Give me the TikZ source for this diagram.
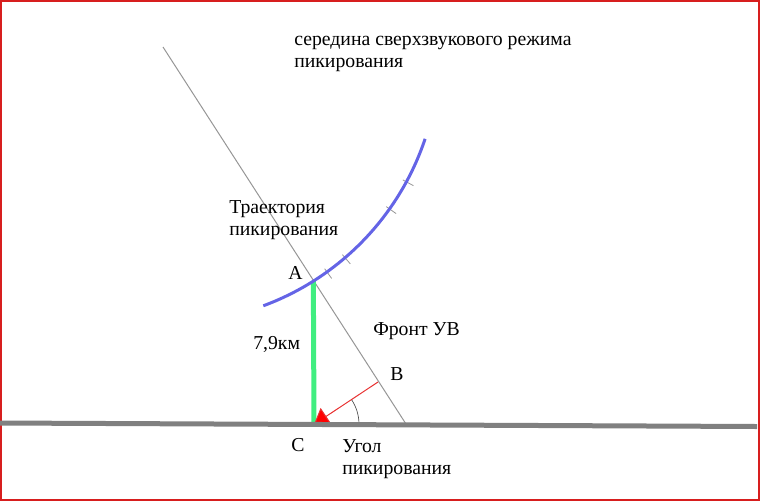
\documentclass[tikz,border=0pt]{standalone}
\usepackage{fontspec}
\setmainfont{Liberation Serif}
\usetikzlibrary{calc,arrows.meta}

\definecolor{framered}{RGB}{215,30,30}
\definecolor{groundgray}{RGB}{128,128,128}
\definecolor{frontgray}{RGB}{150,150,150}
\definecolor{heightgreen}{RGB}{64,238,128}
\definecolor{trajblue}{RGB}{100,100,230}
\definecolor{rayred}{RGB}{232,50,50}

\begin{document}
\begin{tikzpicture}[x=0.75pt, y=-0.75pt,
    lbl/.style={inner sep=0pt, anchor=base west, align=left,
      font=\fontsize{14.8pt}{16.5pt}\selectfont},
    tickmark/.style={frontgray, line width=0.6pt}]
    \useasboundingbox (0,0) rectangle (760,501);

    % Frame
    \draw[framered, line width=1.5pt] (1,1) rectangle (759,500);

    % Points
    \coordinate (O) at (170,53.5);
    \coordinate (A) at ($(O)+(57.8:269)$);
    \coordinate (C) at (314,424.4);
    \coordinate (B) at (378,382);
    \coordinate (F1) at (163,47);
    \coordinate (F2) at (406,424);
    \coordinate (G1) at (0,423);
    \coordinate (G2) at (757,426.5);

    % Shock wave front
    \draw[frontgray, line width=0.75pt] (F1) -- (F2);

    % Height
    \draw[heightgreen, line width=3.75pt] (A) -- (C);

    % Ray and dive angle
    \draw[rayred, line width=0.75pt, -{Triangle[length=11pt, width=15pt, fill=red]}] (B) -- (C);
    \draw[black!70, line width=0.5pt] ($(C)+(0:45)$) arc[start angle=0, end angle=-33, radius=45];

    % Dive trajectory
    \foreach \a in {54.3,49.4,35.3,28.5}
        \draw[tickmark] ($(O)+(\a:265)$) -- ($(O)+(\a:277)$);
    \draw[trajblue, line width=2.25pt] ($(O)+(69.7:269)$) arc[start angle=69.7, end angle=18.5, radius=269];

    % Ground
    \draw[groundgray, line width=3.75pt] (G1) -- (G2);

    % Labels (base of the last line)
    \node[lbl] (mid) at (294,67) {середина сверхзвукового режима\\пикирования};
    \node[lbl] (traj) at (229,235) {Траектория\\пикирования};
    \node[lbl] (lA) at (288,279) {A};
    \node[lbl] (lh) at (253,349) {7,9км};
    \node[lbl] (front) at (373,335) {Фронт УВ};
    \node[lbl] (lB) at (390,380) {B};
    \node[lbl] (lC) at (291,451) {C};
    \node[lbl] (angle) at (342,474) {Угол\\пикирования};
\end{tikzpicture}
\end{document}
